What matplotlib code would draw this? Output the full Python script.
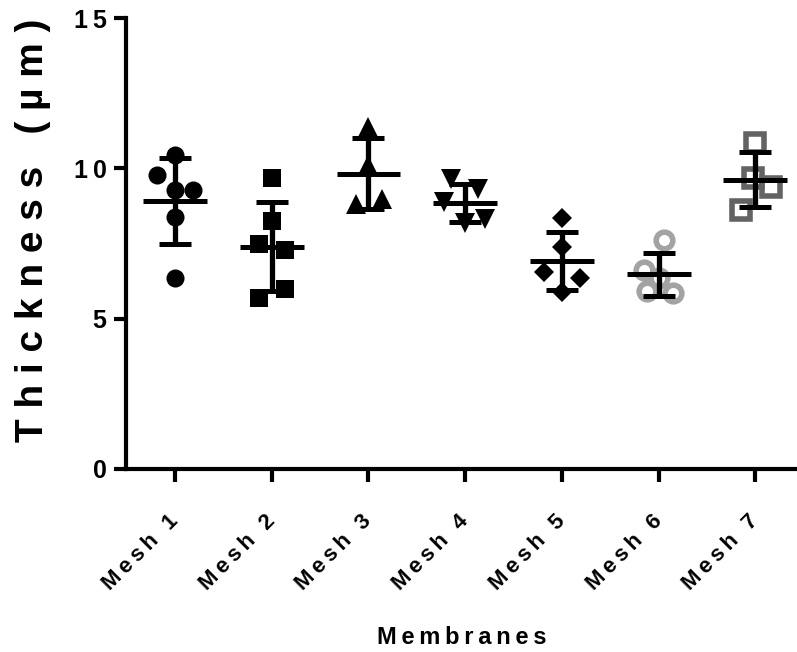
import numpy as np
import matplotlib
matplotlib.use("Agg")
import matplotlib.pyplot as plt

plt.rcParams['font.family'] = ['Liberation Sans', 'DejaVu Sans']
plt.rcParams['font.weight'] = 'bold'

categories = ["Mesh 1", "Mesh 2", "Mesh 3", "Mesh 4", "Mesh 5", "Mesh 6", "Mesh 7"]
mesh1 = [10.44, 9.78, 9.28, 9.28, 8.37, 6.36]
mesh2 = [9.67, 8.26, 7.47, 7.28, 5.98, 5.70]
mesh3 = [11.38, 10.11, 8.81, 8.99]
mesh4 = [9.63, 9.30, 8.87, 8.31, 8.17]
mesh5 = [8.34, 7.39, 6.56, 6.34, 5.90]
mesh6 = [7.62, 6.62, 6.35, 5.92, 5.87]
mesh7 = [10.83, 9.67, 9.39, 8.61]
yticks = [0, 5, 10, 15]

series = [mesh1, mesh2, mesh3, mesh4, mesh5, mesh6, mesh7]
# horizontal scatter offsets (layout only)
offsets = [
    [0, -0.19, 0, 0.19, 0, 0],
    [0, 0, -0.13, 0.14, 0.14, -0.13],
    [0, 0, -0.13, 0.14],
    [-0.15, 0.13, -0.22, 0.2, 0],
    [0, 0, -0.19, 0.19, 0],
    [0.05, -0.15, 0.0, -0.12, 0.15],
    [0, -0.03, 0.16, -0.15],
]
styles = [
    dict(marker='o', ms=13, mfc='black', mec='black', mew=0),
    dict(marker='s', ms=13, mfc='black', mec='black', mew=0),
    dict(marker='^', ms=14, mfc='black', mec='black', mew=0),
    dict(marker='v', ms=14, mfc='black', mec='black', mew=0),
    dict(marker='D', ms=10, mfc='black', mec='black', mew=0),
    dict(marker='o', ms=12, mfc='none', mec='#a3a3a3', mew=4),
    dict(marker='s', ms=13.5, mfc='none', mec='#636363', mew=4),
]

def spaced(s, sp='\u2009'):
    return sp.join(list(s))

fig = plt.figure(figsize=(7.97, 6.52), dpi=100)
ax = fig.add_axes([126/797, 183/652, 671/797, 451/652])

for i, (vals, offs, st) in enumerate(zip(series, offsets, styles)):
    xs = [i + o for o in offs]
    ax.plot(xs, vals, linestyle='none', zorder=2, clip_on=False, **st)
    m = np.mean(vals)
    sd = np.std(vals, ddof=1)
    ax.hlines(m, i - 0.33, i + 0.33, color='black', lw=3.6, zorder=3)
    ax.errorbar([i], [m], yerr=[sd], fmt='none', ecolor='black', elinewidth=3.8,
                capsize=11.5, capthick=3.6, zorder=3)

ax.set_xlim(-0.507, 6.43)
ax.set_ylim(0, 15)
ax.set_yticks(yticks)
ax.set_yticklabels([spaced(str(t)) for t in yticks], fontsize=18, fontweight='bold')
ax.set_xticks(range(len(categories)))
ax.set_xticklabels([spaced(c) for c in categories], rotation=45, ha='right',
                   va='center', rotation_mode='anchor', fontsize=16, fontweight='bold')

for side in ['top', 'right']:
    ax.spines[side].set_visible(False)
for side in ['left', 'bottom']:
    ax.spines[side].set_linewidth(3)
ax.tick_params(axis='both', width=3, length=9, direction='out')
ax.tick_params(axis='y', pad=5)
ax.tick_params(axis='x', pad=26)

ax.set_ylabel(spaced('Thickness (µm)', ' '), fontsize=28, fontweight='bold')
ax.yaxis.set_label_coords(-0.112, 0.53)
ax.set_xlabel(spaced('Membranes'), fontsize=17, fontweight='bold', labelpad=23)

fig.savefig('out.png', dpi=100)
